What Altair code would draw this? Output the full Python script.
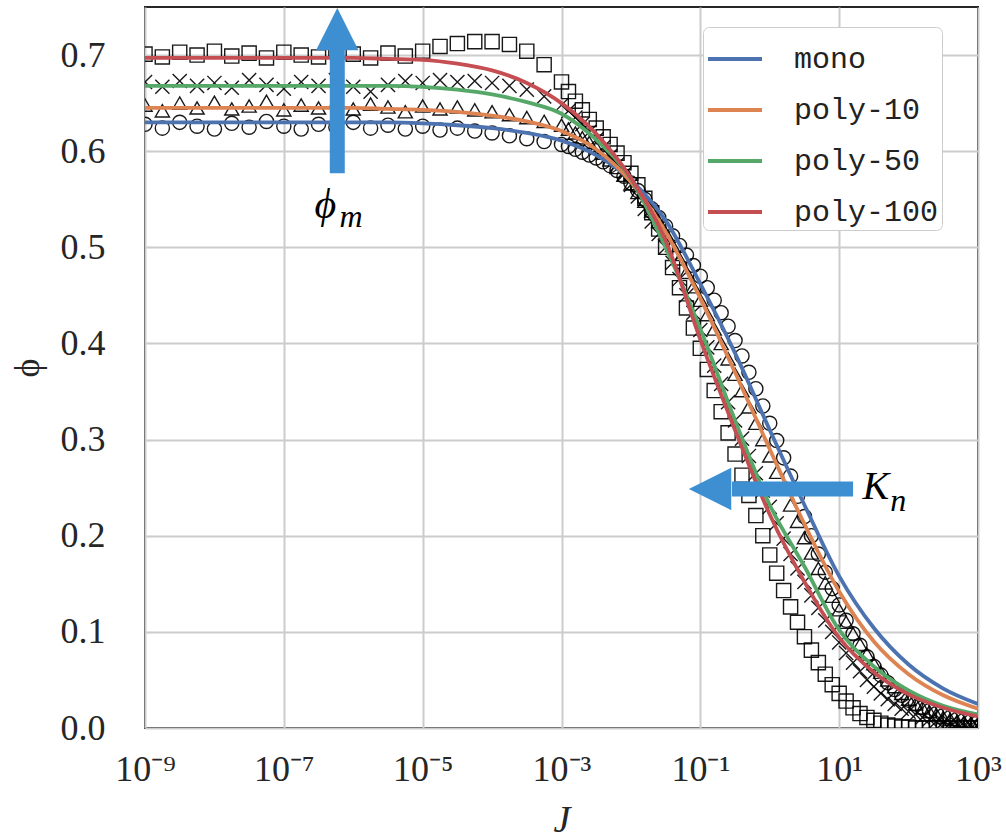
import altair as alt
import pandas as pd

SERIES = ["mono", "poly-10", "poly-50", "poly-100"]
COLORS = ["#4C72B0", "#DD8452", "#55A868", "#C44E52"]

# fitted curves, read at log10(J)
FIT_LOGJ = [-9.0, -8.5, -8.0, -7.5, -7.0, -6.5, -6.0, -5.5, -5.0, -4.5, -4.0, -3.5, -3.0,
            -2.5, -2.0, -1.5, -1.0, -0.5, 0.0, 0.5, 1.0, 1.5, 2.0, 2.5, 3.0]
FIT_MONO = [0.630, 0.630, 0.630, 0.630, 0.630, 0.630, 0.630, 0.630, 0.629, 0.627, 0.624, 0.619, 0.611,
            0.596, 0.570, 0.528, 0.462, 0.390, 0.310, 0.232, 0.158, 0.104, 0.066, 0.041, 0.025]
FIT_P10 = [0.645, 0.645, 0.645, 0.645, 0.645, 0.645, 0.645, 0.644, 0.643, 0.641, 0.637, 0.631, 0.621,
           0.602, 0.568, 0.516, 0.447, 0.370, 0.290, 0.212, 0.142, 0.090, 0.056, 0.034, 0.020]
FIT_P50 = [0.668, 0.668, 0.668, 0.668, 0.668, 0.668, 0.668, 0.668, 0.667, 0.664, 0.659, 0.651, 0.639,
           0.612, 0.571, 0.500, 0.415, 0.320, 0.232, 0.168, 0.102, 0.064, 0.039, 0.023, 0.014]
FIT_P100 = [0.697, 0.697, 0.697, 0.697, 0.697, 0.697, 0.697, 0.696, 0.695, 0.691, 0.684, 0.671, 0.650,
            0.618, 0.572, 0.507, 0.404, 0.310, 0.222, 0.152, 0.094, 0.058, 0.035, 0.021, 0.012]

# measured data (black hollow markers), read at log10(J)
MARK_LOGJ = [-9.0, -8.75, -8.5, -8.25, -8.0, -7.75, -7.5, -7.25, -7.0, -6.75, -6.5, -6.25,
             -6.0, -5.75, -5.5, -5.25, -5.0, -4.75, -4.5, -4.25, -4.0, -3.75, -3.5, -3.25,
             -3.0, -2.9, -2.8, -2.7, -2.6, -2.5, -2.4, -2.3, -2.2, -2.1,
             -2.0, -1.9, -1.8, -1.7, -1.6, -1.5, -1.4, -1.3, -1.2, -1.1,
             -1.0, -0.9, -0.8, -0.7, -0.6, -0.5, -0.4, -0.3, -0.2, -0.1,
             0.0, 0.1, 0.2, 0.3, 0.4, 0.5, 0.6, 0.7, 0.8, 0.9,
             1.0, 1.1, 1.2, 1.3, 1.4, 1.5, 1.6, 1.7, 1.8, 1.9,
             2.0, 2.1, 2.2, 2.3, 2.4, 2.5, 2.6, 2.7, 2.8, 2.9, 3.0]
MARK_MONO = [0.628, 0.624, 0.630, 0.626, 0.623, 0.629, 0.625, 0.631, 0.626, 0.623, 0.628, 0.625,
             0.630, 0.624, 0.627, 0.623, 0.626, 0.622, 0.624, 0.621, 0.619, 0.616, 0.613, 0.610,
             0.607, 0.605, 0.602, 0.599, 0.596, 0.593, 0.589, 0.585, 0.580, 0.574,
             0.567, 0.559, 0.550, 0.540, 0.531, 0.522, 0.512, 0.502, 0.492, 0.481,
             0.470, 0.458, 0.445, 0.432, 0.418, 0.403, 0.387, 0.370, 0.353, 0.335,
             0.317, 0.299, 0.281, 0.262, 0.241, 0.220, 0.200, 0.181, 0.162, 0.145,
             0.128, 0.112, 0.098, 0.086, 0.074, 0.064, 0.055, 0.047, 0.040, 0.034,
             0.029, 0.025, 0.021, 0.018, 0.015, 0.013, 0.011, 0.009, 0.008, 0.007, 0.006]
MARK_P10 = [0.648, 0.642, 0.650, 0.645, 0.651, 0.644, 0.647, 0.652, 0.643, 0.648, 0.645, 0.651,
            0.644, 0.649, 0.646, 0.641, 0.647, 0.644, 0.646, 0.643, 0.641, 0.638, 0.635, 0.631,
            0.627, 0.623, 0.619, 0.614, 0.609, 0.604, 0.598, 0.591, 0.583, 0.575,
            0.566, 0.557, 0.548, 0.538, 0.527, 0.515, 0.502, 0.488, 0.474, 0.459,
            0.445, 0.430, 0.415, 0.400, 0.384, 0.368, 0.351, 0.334, 0.317, 0.300,
            0.283, 0.266, 0.249, 0.232, 0.215, 0.198, 0.182, 0.166, 0.151, 0.137,
            0.123, 0.110, 0.098, 0.087, 0.077, 0.067, 0.058, 0.050, 0.043, 0.036,
            0.030, 0.025, 0.021, 0.017, 0.014, 0.011, 0.009, 0.007, 0.006, 0.005, 0.004]
MARK_P50 = [0.672, 0.667, 0.673, 0.668, 0.671, 0.666, 0.674, 0.669, 0.665, 0.672, 0.668, 0.674,
            0.667, 0.662, 0.669, 0.673, 0.671, 0.674, 0.672, 0.673, 0.671, 0.668, 0.664, 0.657,
            0.648, 0.642, 0.635, 0.628, 0.620, 0.612, 0.604, 0.595, 0.586, 0.576,
            0.565, 0.553, 0.540, 0.527, 0.514, 0.500, 0.484, 0.467, 0.450, 0.432,
            0.414, 0.396, 0.377, 0.358, 0.339, 0.320, 0.301, 0.283, 0.265, 0.247,
            0.230, 0.213, 0.197, 0.181, 0.166, 0.152, 0.138, 0.125, 0.112, 0.100,
            0.089, 0.078, 0.068, 0.059, 0.050, 0.043, 0.036, 0.030, 0.025, 0.020,
            0.017, 0.014, 0.011, 0.009, 0.007, 0.006, 0.005, 0.004, 0.003, 0.003, 0.002]
MARK_P100 = [0.701, 0.698, 0.703, 0.700, 0.704, 0.699, 0.702, 0.697, 0.703, 0.700, 0.698, 0.704,
             0.701, 0.697, 0.702, 0.699, 0.704, 0.709, 0.712, 0.714, 0.714, 0.711, 0.704, 0.690,
             0.672, 0.662, 0.652, 0.643, 0.633, 0.624, 0.615, 0.607, 0.598, 0.588,
             0.577, 0.565, 0.551, 0.536, 0.519, 0.500, 0.479, 0.458, 0.437, 0.416,
             0.395, 0.373, 0.351, 0.329, 0.307, 0.285, 0.263, 0.242, 0.221, 0.200,
             0.180, 0.161, 0.143, 0.126, 0.110, 0.095, 0.081, 0.068, 0.056, 0.045,
             0.036, 0.028, 0.021, 0.015, 0.011, 0.008, 0.005, 0.003, 0.002, 0.001,
             0.001, 0.0, 0.0, 0.0, 0.0, 0.0, 0.0, 0.0, 0.0, 0.0, 0.0]
MARKER_SHAPES = ["circle", "triangle-up", "M-1,-1L1,1M-1,1L1,-1", "square"]

X_TICKS = [1e-9, 1e-7, 1e-5, 1e-3, 1e-1, 1e1, 1e3]
X_TICK_LABELS = ["10⁻⁹", "10⁻⁷", "10⁻⁵", "10⁻³", "10⁻¹", "10¹", "10³"]
Y_TICKS = [0.0, 0.1, 0.2, 0.3, 0.4, 0.5, 0.6, 0.7]

# annotations (log10 J, phi)
ARROW_COLOR = "#3d8fd1"
UP_ARROW = {"logJ": -6.23, "phi0": 0.577, "phi1": 0.706, "head": 0.727}
LEFT_ARROW = {"phi": 0.2487, "logJ0": 1.20, "logJ1": -0.545, "head": -0.86}
LABELS = [
    {"text": "ϕ", "logJ": -6.40, "phi": 0.544, "size": 42},
    {"text": "m", "logJ": -6.03, "phi": 0.532, "size": 32},
    {"text": "K", "logJ": 1.53, "phi": 0.251, "size": 40},
    {"text": "n", "logJ": 1.85, "phi": 0.236, "size": 32},
]

SERIF = "Liberation Serif"

fit_rows = []
for name, vals in zip(SERIES, [FIT_MONO, FIT_P10, FIT_P50, FIT_P100]):
    for lj, v in zip(FIT_LOGJ, vals):
        fit_rows.append({"series": name, "J": 10 ** lj, "phi": v})
fit_df = pd.DataFrame(fit_rows)

mark_rows = []
for name, vals in zip(SERIES, [MARK_MONO, MARK_P10, MARK_P50, MARK_P100]):
    for lj, v in zip(MARK_LOGJ, vals):
        mark_rows.append({"kind": name + " data", "J": 10 ** lj, "phi": v})
mark_df = pd.DataFrame(mark_rows)

label_expr = " : ".join(
    f"datum.value < {t * 3:.0e} ? '{lab}'" for t, lab in zip(X_TICKS[:-1], X_TICK_LABELS[:-1])
) + f" : '{X_TICK_LABELS[-1]}'"

x_scale = alt.Scale(type="log", domain=[1e-9, 1e3], nice=False)
y_scale = alt.Scale(domain=[0, 0.75], nice=False, zero=False)
x_axis = alt.Axis(values=X_TICKS, labelExpr=label_expr, title="J", titleFontStyle="italic",
                  labelPadding=24, titlePadding=14, labelFlush=False,
                  labelFont=SERIF, labelFontSize=36, titleFont=SERIF, titleFontSize=38)
y_axis = alt.Axis(values=Y_TICKS, format=".1f", title="ϕ", titlePadding=14, labelPadding=40,
                  labelFont=SERIF, labelFontSize=36, titleFont=SERIF, titleFontSize=36)


def X(field):
    return alt.X(field, scale=x_scale, axis=x_axis, title="J")


def Y(field):
    return alt.Y(field, scale=y_scale, axis=y_axis, title="ϕ")


points = alt.Chart(mark_df).mark_point(
    filled=False, color="black", strokeWidth=1.4, size=200, opacity=0.9, clip=True
).encode(
    x=X("J:Q"),
    y=Y("phi:Q"),
    shape=alt.Shape("kind:N", scale=alt.Scale(domain=[s + " data" for s in SERIES],
                    range=MARKER_SHAPES), legend=None),
)

lines = alt.Chart(fit_df).mark_line(strokeWidth=3.8, interpolate="monotone", clip=True).encode(
    x=X("J:Q"),
    y=Y("phi:Q"),
    color=alt.Color("series:N", scale=alt.Scale(domain=SERIES, range=COLORS),
                    sort=SERIES,
                    legend=alt.Legend(
                        title=None, orient="none", legendX=558, legendY=20,
                        columns=1, rowPadding=7,
                        symbolType="stroke", symbolStrokeWidth=4, symbolSize=2916,
                        labelFont="Liberation Mono", labelFontSize=30, labelColor="#222222",
                        labelExpr="datum.label + '\u00a0'",
                        labelOffset=30, padding=3,
                        strokeColor="#cccccc", fillColor="white", cornerRadius=6)),
)

up_df = pd.DataFrame([{"J": 10 ** UP_ARROW["logJ"], "phi": UP_ARROW["phi0"],
                       "p1": UP_ARROW["phi1"], "head": UP_ARROW["head"]}])
left_df = pd.DataFrame([{"J": 10 ** LEFT_ARROW["logJ0"], "J1": 10 ** LEFT_ARROW["logJ1"],
                         "Jh": 10 ** LEFT_ARROW["head"], "phi": LEFT_ARROW["phi"]}])

up_shaft = alt.Chart(up_df).mark_rule(color=ARROW_COLOR, strokeWidth=15, strokeCap="butt").encode(
    x=X("J:Q"), y=Y("phi:Q"), y2="p1:Q")
up_head = alt.Chart(up_df).mark_point(shape="M0,-1L-1,1L1,1Z", filled=True, size=1800,
                                      color=ARROW_COLOR, opacity=1).encode(
    x=X("J:Q"), y=Y("head:Q"))
left_shaft = alt.Chart(left_df).mark_rule(color=ARROW_COLOR, strokeWidth=15, strokeCap="butt").encode(
    x=X("J:Q"), x2="J1:Q", y=Y("phi:Q"))
left_head = alt.Chart(left_df).mark_point(shape="M-1,0L1,-1L1,1Z", filled=True, size=1800,
                                          color=ARROW_COLOR, opacity=1).encode(
    x=X("Jh:Q"), y=Y("phi:Q"))

lab_df = pd.DataFrame([{"text": d["text"], "J": 10 ** d["logJ"], "phi": d["phi"], "size": d["size"]}
                       for d in LABELS])
texts = alt.Chart(lab_df).mark_text(font=SERIF, fontStyle="italic", color="black",
                                    align="center", baseline="middle").encode(
    x=X("J:Q"),
    y=Y("phi:Q"),
    text="text:N",
    size=alt.Size("size:Q", scale=None, legend=None),
)

chart = alt.layer(points, lines, up_shaft, up_head, left_shaft, left_head, texts).properties(
    width=833, height=721,
    autosize=alt.AutoSizeParams(type="none"),
    padding={"left": 145, "top": 7, "right": 28, "bottom": 112},
    background="white",
).configure_view(
    stroke="#262626", strokeWidth=2
).configure_axis(
    grid=True, gridColor="#cccccc", gridWidth=2, domain=False, ticks=False,
    labelFont=SERIF, labelColor="#262626",
    titleFont=SERIF, titleColor="#262626", titleFontWeight="normal",
)

chart.save("out.html", embed_options={"renderer": "svg", "actions": False})
